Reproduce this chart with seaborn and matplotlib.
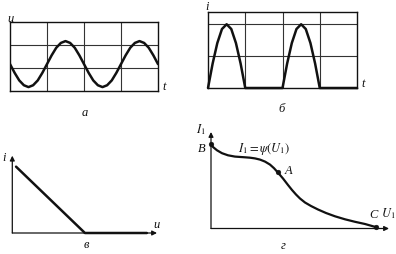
import numpy as np
import pandas as pd
import matplotlib
matplotlib.use("Agg")
import matplotlib.pyplot as plt
import seaborn as sns

# ---- data ----
# panel a: sinusoidal voltage (grid units, box 4 x 3)
a_t = [i * 0.125 for i in range(33)]
a_u = [1.17, 0.79, 0.46, 0.25, 0.17, 0.25, 0.46, 0.79, 1.17, 1.55, 1.88, 2.09, 2.17, 2.09, 1.88, 1.55,
       1.17, 0.79, 0.46, 0.25, 0.17, 0.25, 0.46, 0.79, 1.17, 1.55, 1.88, 2.09, 2.17, 2.09, 1.88, 1.55, 1.17]
# panel б: half-wave rectified current (grid units, box 4 x 2.4)
b_t = [0, 0.125, 0.25, 0.375, 0.5, 0.625, 0.75, 0.875, 1.0, 2.0, 2.125, 2.25, 2.375, 2.5, 2.625, 2.75, 2.875, 3.0, 4.0]
b_i = [0, 0.77, 1.41, 1.85, 2.0, 1.85, 1.41, 0.77, 0, 0, 0.77, 1.41, 1.85, 2.0, 1.85, 1.41, 0.77, 0, 0]
# panel в: current vs voltage characteristic
c_u = [0.26, 5.02, 9.3]
c_i = [8.58, 0.0, 0.0]
# panel г: I1 = psi(U1)
d_u = [0, 0.112, 0.337, 0.618, 0.955, 1.348, 1.910, 2.191, 2.472, 2.753, 3.034, 3.315, 3.539, 3.747,
       4.045, 4.326, 4.551, 4.775, 5.000, 5.281, 5.618, 6.011, 6.461, 6.966, 7.528, 8.090, 8.652, 9.253]
d_i = [8.756, 8.446, 8.104, 7.803, 7.585, 7.451, 7.378, 7.337, 7.264, 7.140, 6.933, 6.622, 6.249, 5.824,
       5.181, 4.508, 3.990, 3.523, 3.109, 2.694, 2.332, 1.969, 1.606, 1.264, 0.953, 0.694, 0.466, 0.15]
pt_names = ["B", "A", "C"]
pt_u = [0, 3.747, 9.253]
pt_i = [8.756, 5.824, 0.15]
panel_labels = ["а", "б", "в", "г"]

sns.set_theme(style="white")
plt.rcParams["font.family"] = ["Liberation Serif", "DejaVu Serif"]
plt.rcParams["mathtext.fontset"] = "stix"

W, H = 396, 255
fig = plt.figure(figsize=(W / 100, H / 100), dpi=100)
fig.patch.set_facecolor("white")
INK = "#111111"


def add_ax(l, r, t, b):
    return fig.add_axes([l / W, 1 - b / H, (r - l) / W, (b - t) / H])


def ftext(x, y, s, size=9, style="italic", **kw):
    fig.text(x / W, 1 - y / H, s, fontsize=size, style=style, ha="center", va="center", color=INK, **kw)


def grid_box(ax, xmax, ymax, yticks):
    ax.set_xlim(0, xmax)
    ax.set_ylim(0, ymax)
    ax.set_xticks([1, 2, 3])
    ax.set_yticks(yticks)
    ax.tick_params(length=0, labelbottom=False, labelleft=False)
    ax.grid(True, color="#333333", lw=0.8)
    for s in ax.spines.values():
        s.set_visible(True)
        s.set_color(INK)
        s.set_linewidth(1.0)
    ax.set_xlabel("")
    ax.set_ylabel("")
    ax.set_facecolor("white")


# panel a
ax1 = add_ax(10, 158, 23, 92)
sns.lineplot(data=pd.DataFrame({"t": a_t, "u": a_u}), x="t", y="u", ax=ax1, color=INK, lw=1.8)
grid_box(ax1, 4, 3, [1, 2])
ftext(10, 19, "u")
ftext(164, 87, "t")
ftext(85, 113, panel_labels[0])

# panel б
ax2 = add_ax(208, 357, 12.5, 89)
sns.lineplot(data=pd.DataFrame({"t": b_t, "i": b_i}), x="t", y="i", ax=ax2, color=INK, lw=1.8)
for ln in ax2.lines:
    ln.set_clip_on(False)
grid_box(ax2, 4, 2.4, [1, 2])
ftext(207, 7, "i")
ftext(363, 84, "t")
ftext(282, 109, panel_labels[1])


def arrow_axes(ax):
    ax.set_xlim(0, 10)
    ax.set_ylim(0, 10)
    ax.set_axis_off()
    ap = dict(arrowstyle="-|>", lw=0.9, color=INK, mutation_scale=7, shrinkA=0, shrinkB=0)
    ax.annotate("", xy=(10, 0), xytext=(0, 0), arrowprops=ap, annotation_clip=False)
    ax.annotate("", xy=(0, 10), xytext=(0, 0), arrowprops=ap, annotation_clip=False)


# panel в
ax3 = add_ax(12.3, 157, 156.7, 234)
arrow_axes(ax3)
sns.lineplot(data=pd.DataFrame({"u": c_u, "i": c_i}), x="u", y="i", ax=ax3, color=INK, lw=1.8)
for ln in ax3.lines:
    ln.set_clip_on(False)
ax3.set_xlim(0, 10)
ax3.set_ylim(0, 10)
ftext(4, 158, "i")
ftext(157, 225, "u")
ftext(86, 245, panel_labels[2])

# panel г
ax4 = add_ax(211, 389, 133, 229.5)
arrow_axes(ax4)
sns.lineplot(data=pd.DataFrame({"U": d_u, "I": d_i}), x="U", y="I", ax=ax4, color=INK, lw=1.6, sort=False)
sns.scatterplot(data=pd.DataFrame({"U": pt_u, "I": pt_i}), x="U", y="I", ax=ax4, color=INK, s=12,
                edgecolor=INK, zorder=5)
for art in ax4.lines + ax4.collections:
    art.set_clip_on(False)
ax4.set_xlim(0, 10)
ax4.set_ylim(0, 10)
ftext(201, 130, r"$I_1$", style="normal")
ftext(202, 149, "B")
ftext(264, 149, r"$I_1=\psi(U_1)$", size=9, style="normal")
ftext(289, 171, "A")
ftext(373, 215, "C")
ftext(388, 214, r"$U_1$", style="normal")
ftext(283, 246, panel_labels[3])

fig.savefig("out.png", dpi=100, facecolor="white")
